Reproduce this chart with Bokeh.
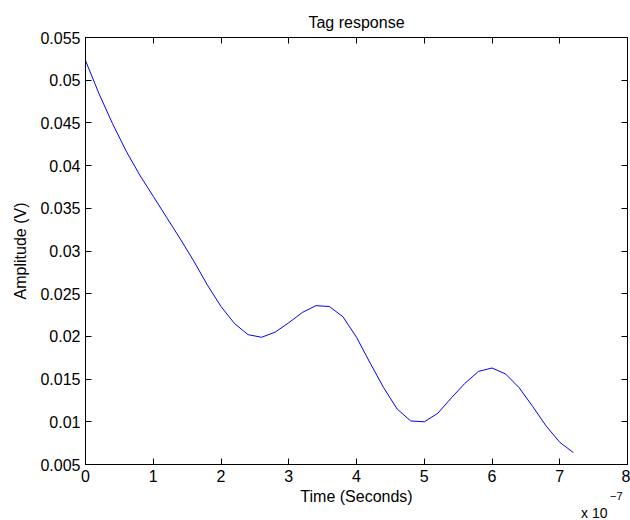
import numpy as np
from bokeh.plotting import figure
from bokeh.models import Range1d, LinearAxis, FixedTicker, CustomJSTickFormatter, Title
from bokeh.embed import file_html
from bokeh.resources import INLINE

# Time in units of 1e-7 seconds
time_1e7 = [0.0, 0.2, 0.4, 0.6, 0.8, 1.0, 1.2, 1.4, 1.6, 1.8,
            2.0, 2.2, 2.4, 2.6, 2.8, 3.0, 3.2, 3.4, 3.6, 3.8,
            4.0, 4.2, 4.4, 4.6, 4.8, 5.0, 5.2, 5.4, 5.6, 5.8,
            6.0, 6.2, 6.4, 6.6, 6.8, 7.0, 7.2]
amplitude_v = [0.0523, 0.0484, 0.0449, 0.0417, 0.0389, 0.0364, 0.0339, 0.0314, 0.0288, 0.0260,
               0.0235, 0.0215, 0.0202, 0.0199, 0.0205, 0.0216, 0.0228, 0.0236, 0.0235, 0.0223,
               0.0199, 0.0169, 0.0140, 0.0115, 0.0101, 0.0100, 0.0110, 0.0128, 0.0145, 0.0159,
               0.0163, 0.0156, 0.0140, 0.0118, 0.0095, 0.0076, 0.0064]

x_ticks = [0, 1, 2, 3, 4, 5, 6, 7, 8]
y_ticks = [0.005, 0.01, 0.015, 0.02, 0.025, 0.03, 0.035, 0.04, 0.045, 0.05, 0.055]

title_text = "Tag response"
x_label = "Time (Seconds)"
y_label = "Amplitude (V)"
exp_base = "x 10"
exp_power = "\u22127"

FONT = "Liberation Sans"

p = figure(width=630, height=520, output_backend="svg", toolbar_location=None,
           x_range=Range1d(x_ticks[0], x_ticks[-1]), y_range=Range1d(y_ticks[0], y_ticks[-1]),
           min_border_left=85, min_border_right=3, min_border_top=37, min_border_bottom=55,
           background_fill_color="white", border_fill_color="white")
p.grid.visible = False
p.outline_line_color = "black"
p.outline_line_width = 1

p.title.text = title_text
p.title.align = "center"
p.title.text_font = FONT
p.title.text_font_size = "16px"
p.title.text_font_style = "normal"
p.title.text_color = "black"
p.title.offset = 4
p.title.standoff = 13

p.line(time_1e7, amplitude_v, line_color="#0000ff", line_width=1)

fmt_y = CustomJSTickFormatter(code="return String(Math.round(tick*1000)/1000);")
empty_fmt = CustomJSTickFormatter(code="return '';")

def style(ax):
    ax.axis_line_color = "black"
    ax.axis_line_width = 1
    ax.major_tick_in = 6
    ax.major_tick_out = 0
    ax.major_tick_line_color = "black"
    ax.minor_tick_line_color = None
    ax.major_label_text_font = FONT
    ax.major_label_text_font_size = "16px"
    ax.major_label_text_color = "black"
    ax.axis_label_text_font = FONT
    ax.axis_label_text_font_size = "16px"
    ax.axis_label_text_font_style = "normal"
    ax.axis_label_text_color = "black"

xa = p.xaxis[0]
style(xa)
xa.ticker = FixedTicker(ticks=x_ticks)
xa.axis_label = x_label
xa.major_label_standoff = 5
xa.axis_label_standoff = 3

ya = p.yaxis[0]
style(ya)
ya.ticker = FixedTicker(ticks=y_ticks)
ya.formatter = fmt_y
ya.axis_label = y_label
ya.major_label_standoff = 5
ya.axis_label_standoff = 8

top = LinearAxis(ticker=FixedTicker(ticks=x_ticks), formatter=empty_fmt)
right = LinearAxis(ticker=FixedTicker(ticks=y_ticks), formatter=empty_fmt)
for ax in (top, right):
    style(ax)
    ax.major_label_text_font_size = "0px"
    ax.major_label_standoff = 0
p.add_layout(top, "above")
p.add_layout(right, "right")

base_title = Title(text=exp_base, align="right", vertical_align="top", standoff=-5, offset=20,
                   text_font=FONT, text_font_size="14px", text_font_style="normal",
                   text_color="black")
p.add_layout(base_title, "below")
power_title = Title(text=exp_power, align="right", vertical_align="top", standoff=-58, offset=5,
                    text_font=FONT, text_font_size="11px", text_font_style="normal",
                    text_color="black")
p.add_layout(power_title, "below")

open("out.html", "w").write(file_html(p, INLINE))
